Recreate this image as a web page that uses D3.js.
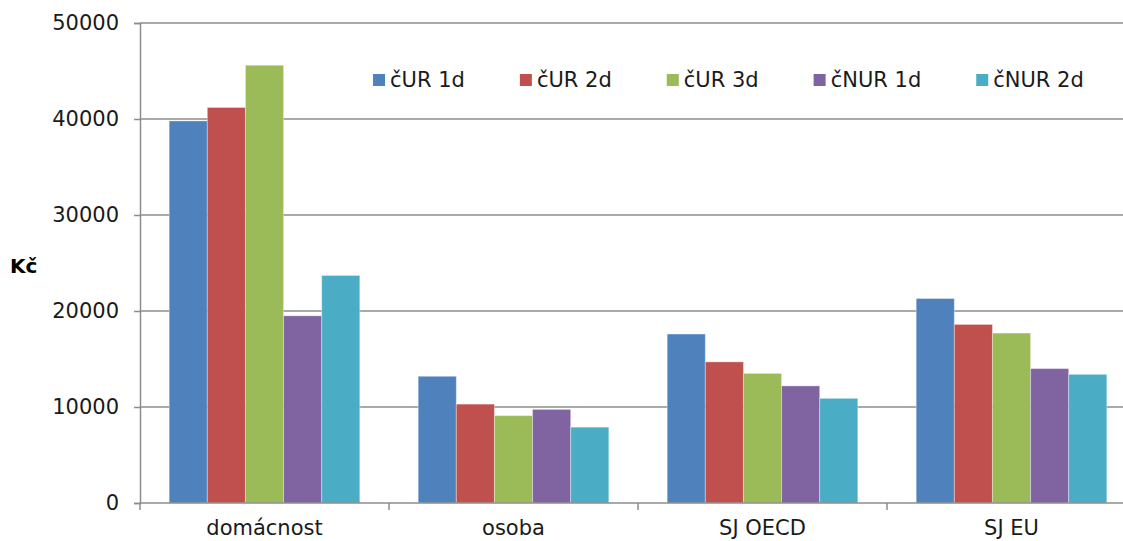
<!DOCTYPE html>
<html><head><meta charset="utf-8">
<script src="https://cdn.jsdelivr.net/npm/d3@7"></script>
<style>body{margin:0;background:#fff;overflow:hidden}text{font-family:"DejaVu Sans",Verdana,sans-serif}</style>
</head><body><svg id="c" width="1123" height="541"></svg>
<script>
const categories = ["domácnost","osoba","SJ OECD","SJ EU"];
const seriesNames = ["čUR 1d","čUR 2d","čUR 3d","čNUR 1d","čNUR 2d"];
const cur1d  = [39800, 13200, 17600, 21300];
const cur2d  = [41200, 10300, 14700, 18600];
const cur3d  = [45600, 9100, 13500, 17700];
const cnur1d = [19500, 9750, 12200, 14000];
const cnur2d = [23700, 7900, 10900, 13400];
const yTicks = [0,10000,20000,30000,40000,50000];
const colors = ["#4F81BD","#C0504D","#9BBB59","#8064A2","#4BACC6"];
const seriesValues = [cur1d,cur2d,cur3d,cnur1d,cnur2d];

(function(){
const svg = d3.select("#c");
const pLeft=140, pRight=1136, pTop=23, pBottom=503;
const y = d3.scaleLinear().domain([0,50000]).range([pBottom,pTop]);
const x0 = d3.scaleBand().domain(categories).range([pLeft,pRight]).padding(0);
const bw = x0.bandwidth(), gap = bw*0.2345;
const x1 = d3.scaleBand().domain(seriesNames).range([gap/2, bw-gap/2]).padding(0);

svg.append("g").selectAll("line").data(yTicks.slice(1)).join("line")
  .attr("x1",pLeft).attr("x2",1123).attr("y1",d=>y(d)).attr("y2",d=>y(d))
  .attr("stroke","#8c8c8c").attr("stroke-width",1.5);

const g = svg.append("g");
seriesNames.forEach((s,si)=>{
  g.selectAll(null).data(categories).join("rect")
    .attr("x",c=>x0(c)+x1(s)).attr("width",x1.bandwidth())
    .attr("y",(c,ci)=>y(seriesValues[si][ci]))
    .attr("height",(c,ci)=>y(0)-y(seriesValues[si][ci]))
    .attr("fill",colors[si]).attr("stroke","rgba(255,255,255,0.35)").attr("stroke-width",1);
});

const ya = svg.append("g").attr("transform",`translate(${pLeft},0)`)
  .call(d3.axisLeft(y).tickValues(yTicks).tickSize(6).tickPadding(15).tickFormat(d3.format("d")));
ya.select(".domain").attr("stroke","#8c8c8c").attr("stroke-width",1.5);
ya.selectAll(".tick line").attr("stroke","#8c8c8c").attr("stroke-width",1.5);
ya.selectAll("text").attr("font-size",21).attr("fill","#1a1a1a").attr("font-family","DejaVu Sans");

const xa = svg.append("g").attr("transform",`translate(0,${pBottom})`)
  .call(d3.axisBottom(x0).tickSize(0).tickPadding(17));
xa.select(".domain").remove();
xa.append("line").attr("x1",pLeft).attr("x2",1123).attr("stroke","#8c8c8c").attr("stroke-width",1.5);
xa.selectAll(".bnd").data(categories).join("line").attr("class","bnd")
  .attr("x1",c=>x0(c)).attr("x2",c=>x0(c)).attr("y1",0).attr("y2",7)
  .attr("stroke","#8c8c8c").attr("stroke-width",1.5);
xa.selectAll(".tick text").attr("font-size",21).attr("fill","#1a1a1a").attr("font-family","DejaVu Sans");

svg.append("text").attr("x",10).attr("y",273).attr("font-size",20).attr("font-weight","bold").text("Kč");

let lx = 373;
seriesNames.forEach((s,i)=>{
  const lg = svg.append("g").attr("transform",`translate(${lx},74)`);
  lg.append("rect").attr("width",12).attr("height",12).attr("fill",colors[i]);
  const t = lg.append("text").attr("x",17).attr("y",13).attr("font-size",21).attr("fill","#1a1a1a").text(s);
  lx += 17 + t.node().getComputedTextLength() + 55;
});
})();
</script></body></html>
